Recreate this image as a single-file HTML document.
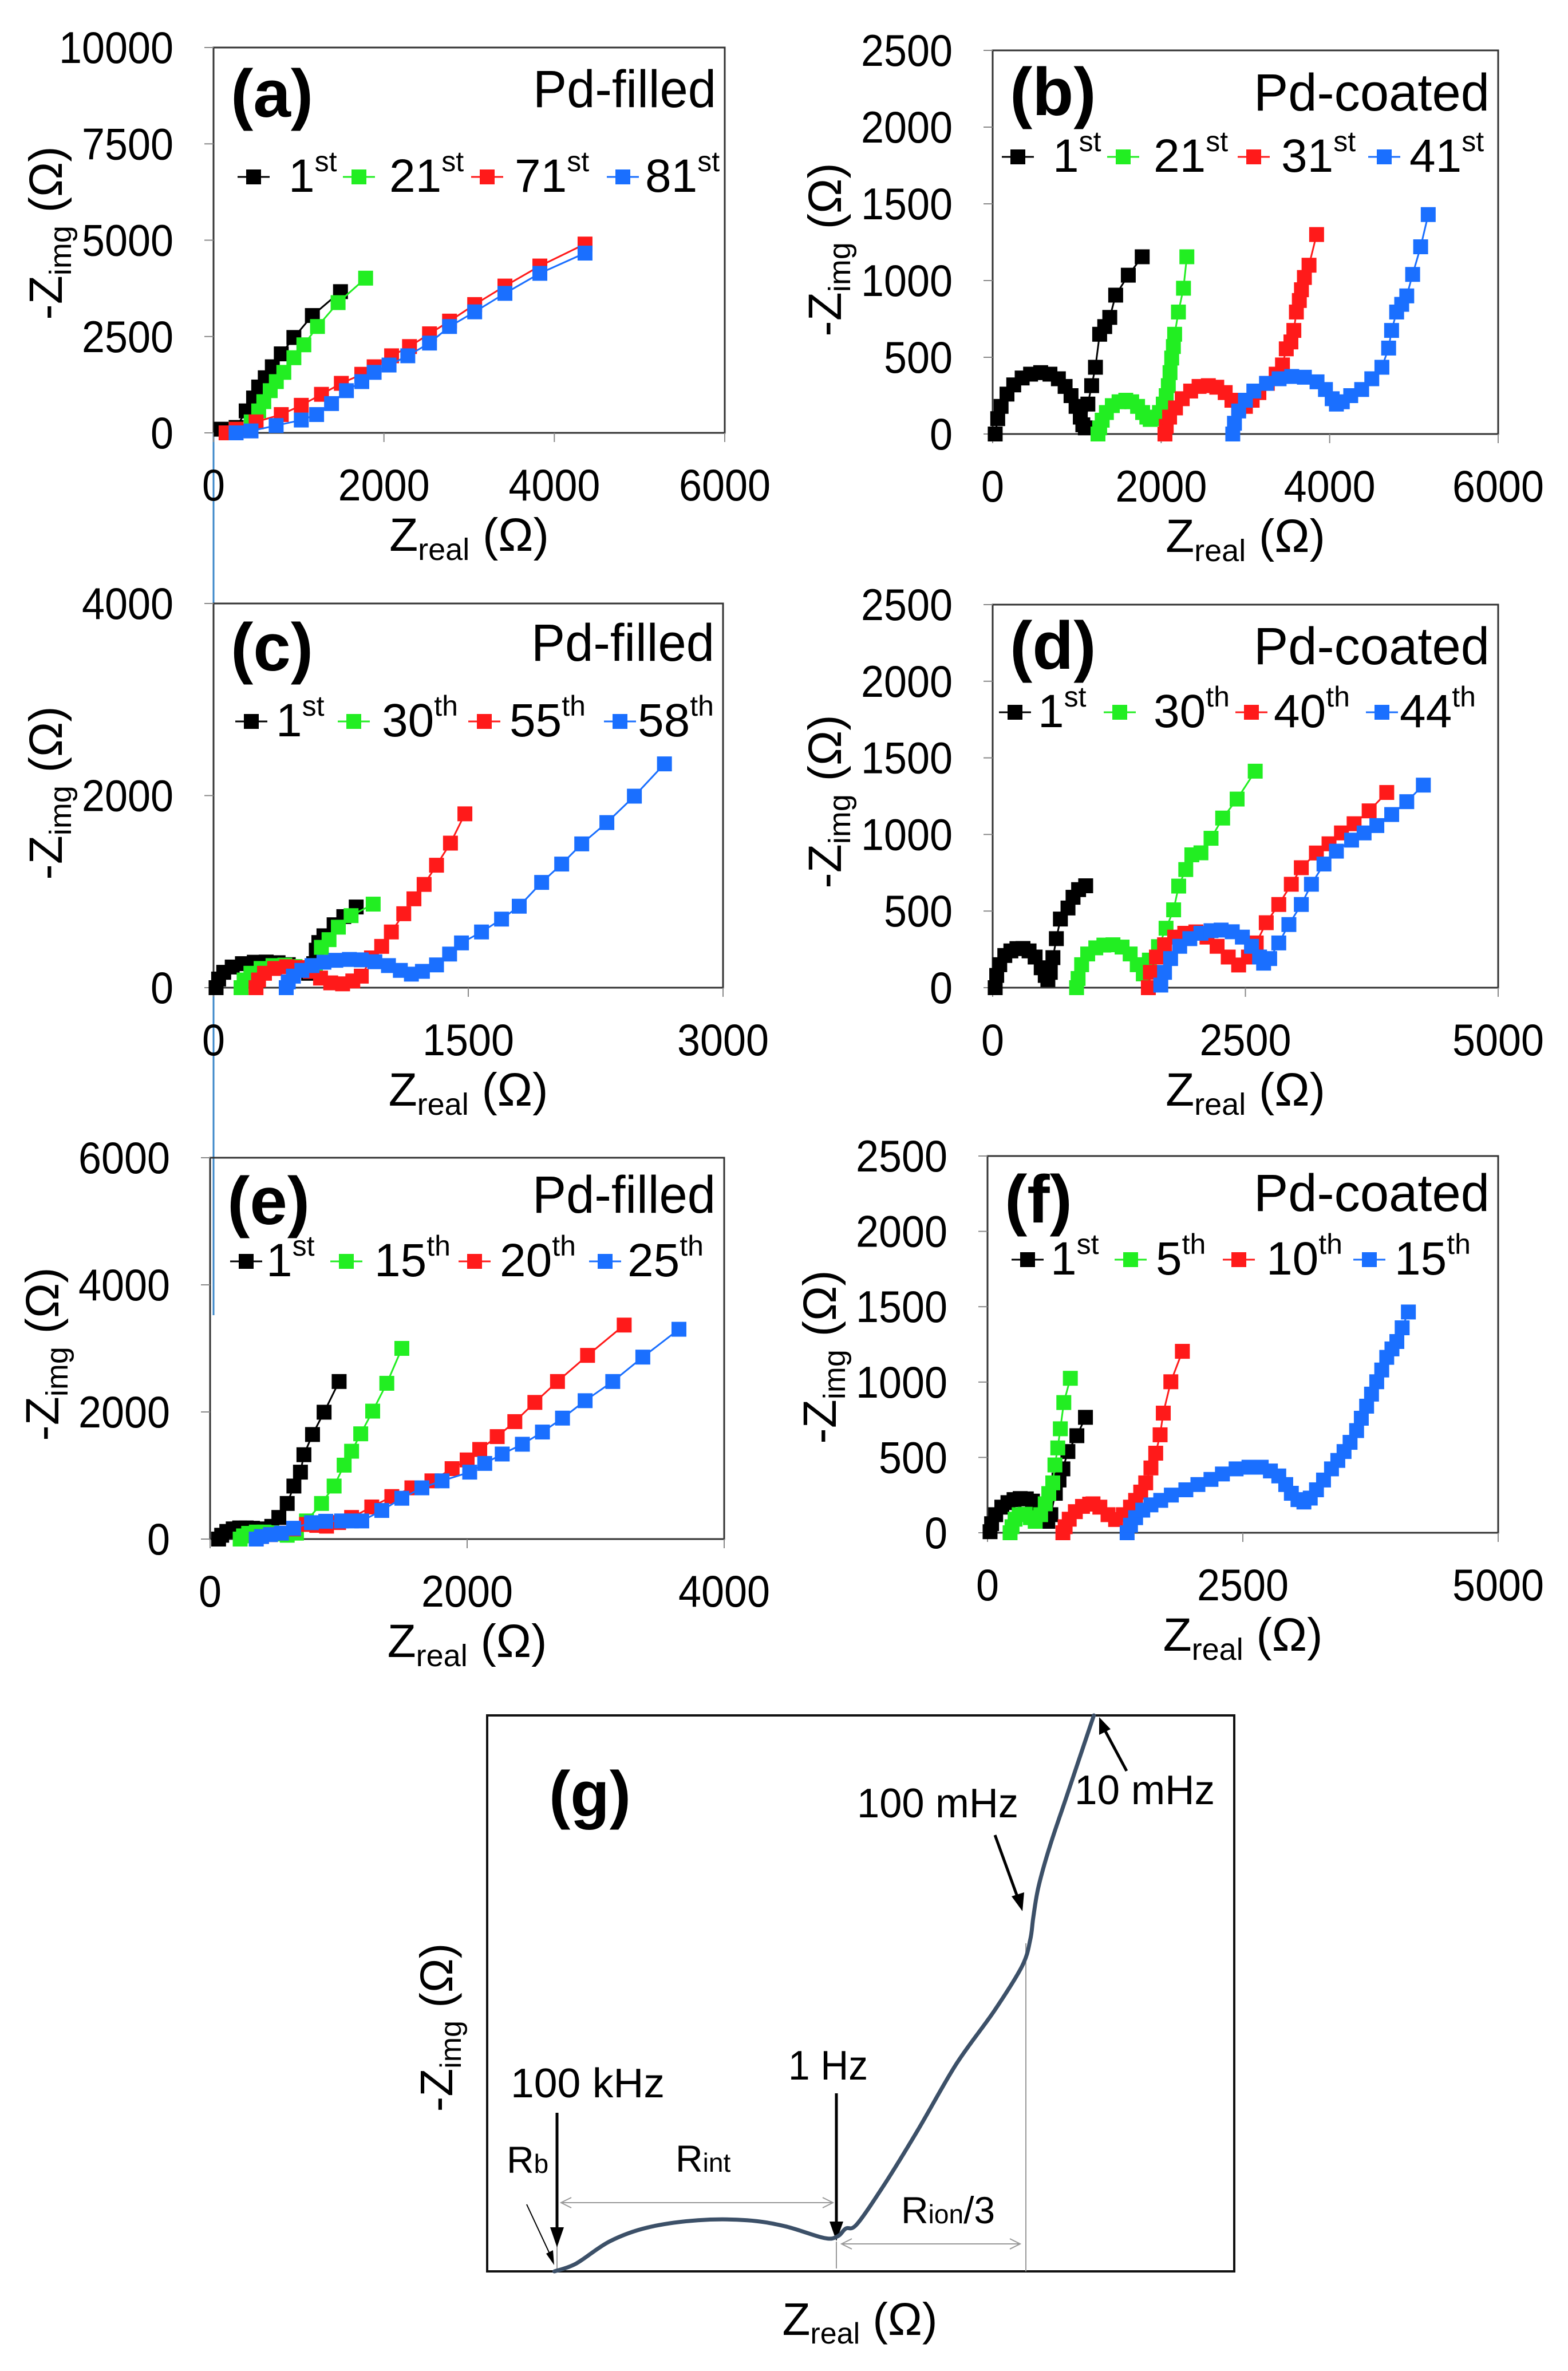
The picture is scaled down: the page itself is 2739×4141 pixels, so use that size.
<!DOCTYPE html>
<html><head><meta charset="utf-8">
<style>
html,body{margin:0;padding:0;background:#fff;}
svg{display:block;font-family:"Liberation Sans",Arial,sans-serif;}
</style></head>
<body>
<svg id="fig" width="2739" height="4141" viewBox="0 0 2739 4141" xmlns="http://www.w3.org/2000/svg">
<rect width="2739" height="4141" fill="#fff"/>
<line x1="373" y1="548" x2="373" y2="2297" stroke="#3a86c8" stroke-width="3"/>
<g id="panels"></g>
<g id="panelg">
  <rect x="851" y="2996" width="1305" height="971" fill="none" stroke="#111" stroke-width="4"/>
  <text x="959" y="3172" font-size="112" font-weight="bold">(g)</text>
  <text x="1497" y="3174" font-size="72" textLength="282" lengthAdjust="spacingAndGlyphs">100 mHz</text>
  <text x="1877" y="3151" font-size="72" textLength="245" lengthAdjust="spacingAndGlyphs">10 mHz</text>
  <text x="1377" y="3632" font-size="72" textLength="139" lengthAdjust="spacingAndGlyphs">1 Hz</text>
  <text x="892" y="3663" font-size="72" textLength="269" lengthAdjust="spacingAndGlyphs">100 kHz</text>
  <text x="885" y="3795" font-size="66">R<tspan font-size="46">b</tspan></text>
  <text x="1180" y="3793" font-size="66">R<tspan font-size="46">int</tspan></text>
  <text x="1574" y="3883" font-size="66">R<tspan font-size="46">ion</tspan>/3</text>
  <text transform="translate(790,3541) rotate(-90)" text-anchor="middle" font-size="80">-Z<tspan font-size="52" dy="15">img</tspan><tspan dy="-15"> (Ω)</tspan></text>
  <text x="1502" y="4078" text-anchor="middle" font-size="80">Z<tspan font-size="52" dy="15">real</tspan><tspan dy="-15"> (Ω)</tspan></text>
  <g stroke="#999" stroke-width="2" fill="none">
    <line x1="973" y1="3838" x2="973" y2="3967"/>
    <line x1="1461" y1="3915" x2="1461" y2="3962"/>
    <line x1="1792" y1="3394" x2="1792" y2="3967"/>
    <line x1="980" y1="3847" x2="1455" y2="3847"/>
    <polyline points="998,3838 980,3847 998,3856"/><polyline points="1437,3838 1455,3847 1437,3856"/>
    <line x1="1470" y1="3919" x2="1782" y2="3919"/>
    <polyline points="1488,3910 1470,3919 1488,3928"/><polyline points="1764,3910 1782,3919 1764,3928"/>
  </g>
  <g stroke="#000" stroke-width="5">
    <line x1="973" y1="3690" x2="973" y2="3895"/>
    <line x1="1461" y1="3656" x2="1461" y2="3885"/>
    <line x1="1738" y1="3205" x2="1778" y2="3315"/>
    <line x1="1968" y1="3093" x2="1930" y2="3022"/>
    <line x1="920" y1="3850" x2="962" y2="3940" stroke-width="2"/>
  </g>
  <g fill="#000">
    <polygon points="961,3890 985,3890 973,3925"/>
    <polygon points="1449,3880 1473,3880 1461,3914"/>
    <polygon points="1767,3312 1789,3305 1786,3338"/>
    <polygon points="1920,3030 1940,3020 1920,2999"/>
    <polygon points="954,3936 966,3930 968,3956"/>
  </g>
  <path id="gcurve" fill="none" stroke="#3c5068" stroke-width="7" stroke-linejoin="round" stroke-linecap="round"/>
</g>
</svg>
<script>
const NS="http://www.w3.org/2000/svg";
const COLORS=["#000000","#22ee22","#ff1a1a","#1a6fff"];

// ---- panel (a) data ----
const aXTicks=[0,2000,4000,6000];
const aYTicks=[0,2500,5000,7500,10000];
const aLegend=["1","21","71","81"];
const aSup=["st","st","st","st"];
const aX1=[90,265,383,470,530,607,690,795,943,1160,1490];
const aY1=[95,140,570,905,1190,1430,1715,2050,2475,3045,3665];
const aX2=[265,442,530,590,665,737,825,943,1060,1220,1462,1785];
const aY2=[95,285,570,810,1095,1330,1570,1950,2285,2760,3380,4015];
const aX3=[147,265,500,795,1030,1267,1500,1740,1885,2090,2300,2535,2770,3065,3420,3830,4360];
const aY3=[0,95,285,475,715,1000,1285,1520,1715,2000,2240,2570,2900,3330,3810,4330,4900];
const aX4=[265,440,735,1030,1210,1385,1560,1740,1885,2060,2280,2535,2770,3065,3420,3830,4360];
const aY4=[0,50,190,333,475,760,1095,1330,1570,1760,2000,2330,2760,3140,3620,4140,4665];

// ---- panel (b) data ----
const bXTicks=[0,2000,4000,6000];
const bYTicks=[0,500,1000,1500,2000,2500];
const bLegend=["1","21","31","41"];
const bSup=["st","st","st","st"];
const bX1=[30,60,100,170,250,350,450,570,680,780,860,930,990,1040,1070,1100,1130,1175,1220,1270,1330,1390,1460,1610,1775];
const bY1=[0,100,180,260,320,365,390,400,390,360,310,250,180,110,60,40,195,315,435,650,700,760,905,1035,1155];
const bX2=[1250,1270,1300,1350,1420,1500,1580,1650,1720,1780,1830,1870,1920,1980,2025,2060,2085,2105,2125,2145,2160,2205,2265,2305];
const bY2=[0,40,90,140,185,210,220,210,180,140,110,95,100,140,195,250,315,400,495,570,650,795,950,1155];
const bX3=[2045,2060,2100,2170,2250,2350,2450,2560,2660,2760,2840,2920,3000,3080,3160,3260,3365,3440,3485,3540,3575,3605,3640,3665,3700,3755,3845];
const bY3=[0,50,110,170,230,280,310,315,305,270,220,170,180,220,270,330,390,450,555,600,675,795,870,940,1020,1100,1300];
const bX4=[2850,2870,2920,3000,3100,3250,3400,3550,3700,3850,3950,4030,4080,4150,4250,4380,4500,4620,4700,4735,4795,4855,4915,4985,5080,5170];
const bY4=[0,70,150,220,280,330,360,375,370,340,290,230,195,210,250,290,360,435,560,675,795,845,900,1040,1220,1430];

// ---- panel (c) data ----
const cXTicks=[0,1500,3000];
const cYTicks=[0,2000,4000];
const cLegend=["1","30","55","58"];
const cSup=["st","th","th","th"];
const cX1=[15,30,60,110,170,240,310,380,440,500,560,590,605,620,650,710,767,840];
const cY1=[0,90,160,215,250,265,267,260,240,200,150,250,390,470,540,655,740,840];
const cX2=[162,180,220,280,350,420,480,530,570,600,635,680,735,810,940];
const cY2=[0,80,150,200,230,235,220,190,170,230,420,500,630,750,870];
const cX3=[250,265,300,360,430,500,570,630,690,760,820,870,930,990,1047,1120,1180,1240,1313,1395,1480];
const cY3=[0,80,150,200,218,210,170,100,50,40,70,120,310,430,580,770,925,1075,1275,1505,1810];
const cX4=[428,440,470,520,580,650,720,800,870,950,1030,1100,1165,1230,1313,1390,1460,1578,1696,1800,1932,2050,2168,2316,2478,2655];
const cY4=[0,60,120,180,230,265,285,294,290,270,230,180,141,170,237,350,466,580,714,848,1096,1287,1497,1719,1994,2330];

// ---- panel (d) data ----
const dXTicks=[0,2500,5000];
const dYTicks=[0,500,1000,1500,2000,2500];
const dLegend=["1","30","40","44"];
const dSup=["st","th","th","th"];
const dX1=[25,40,70,120,180,240,300,360,420,480,520,546,570,596,630,670,745,795,850,920];
const dY1=[0,80,150,210,240,255,256,240,200,130,80,53,100,196,320,448,520,590,640,665];
const dX2=[830,845,880,940,1020,1100,1190,1280,1360,1430,1490,1550,1640,1715,1790,1840,1910,1970,2060,2160,2275,2418,2597];
const dY2=[0,60,150,220,260,278,280,265,220,150,90,180,268,388,508,663,771,867,880,975,1107,1231,1413];
const dX3=[1540,1560,1620,1700,1800,1900,2010,2120,2220,2330,2433,2530,2607,2706,2830,2954,3053,3202,3327,3450,3575,3724,3898];
const dY3=[0,100,200,280,330,355,364,330,270,200,148,200,292,424,543,675,783,879,939,1010,1070,1154,1274];
const dX4=[1663,1700,1760,1850,1950,2060,2160,2260,2370,2470,2560,2640,2680,2740,2830,2930,3053,3153,3277,3400,3550,3674,3800,3947,4096,4260];
const dY4=[17,100,190,270,320,355,372,376,365,330,270,200,160,190,292,412,543,675,807,891,963,1010,1058,1130,1214,1322];

// ---- panel (e) data ----
const eXTicks=[0,2000,4000];
const eYTicks=[0,2000,4000,6000];
const eLegend=["1","15","20","25"];
const eSup=["st","th","th","th"];
const eX1=[66,90,130,180,230,281,330,380,430,480,535,600,652,703,730,797,887,1004];
const eY1=[0,60,120,160,175,175,170,160,150,200,340,560,834,1053,1327,1645,1996,2479];
const eX2=[234,260,300,360,420,480,540,600,672,750,867,965,1043,1101,1172,1265,1375,1492];
const eY2=[0,50,90,110,110,100,80,60,93,285,560,834,1163,1382,1656,2013,2451,3000];
const eX3=[359,400,470,555,650,750,830,906,1000,1101,1258,1414,1570,1726,1883,2000,2098,2234,2371,2527,2703,2937,3222];
const eY3=[0,40,70,93,160,230,215,203,260,340,505,669,806,916,1108,1245,1410,1612,1848,2150,2479,2890,3367];
const eX4=[359,400,470,555,650,789,900,1023,1100,1180,1336,1492,1648,1805,2020,2137,2273,2430,2586,2742,2918,3133,3367,3648];
const eY4=[0,40,70,93,170,258,280,285,285,285,450,642,806,916,1053,1190,1338,1492,1684,1903,2177,2479,2863,3301];

// ---- panel (f) data ----
const fXTicks=[0,2500,5000];
const fYTicks=[0,500,1000,1500,2000,2500];
const fLegend=["1","5","10","15"];
const fSup=["st","th","th","th"];
const fX1=[25,40,80,140,200,260,320,380,440,500,560,590,620,664,700,738,787,875,959];
const fY1=[7,60,120,170,200,220,227,225,210,170,110,76,120,262,350,424,539,644,766];
const fX2=[221,240,270,310,369,420,467,520,565,600,639,660,688,713,747,811];
const fY2=[0,40,90,120,123,100,76,120,192,260,331,450,563,690,864,1025];
const fX3=[738,760,800,860,930,1000,1033,1100,1180,1254,1330,1400,1450,1500,1549,1600,1647,1690,1721,1795,1908];
const fY3=[0,40,90,140,175,190,192,170,120,88,120,170,215,270,331,430,528,650,794,1002,1204];
const fX4=[1367,1400,1450,1520,1600,1696,1800,1942,2060,2188,2300,2434,2560,2680,2770,2852,2920,2975,3040,3098,3160,3221,3290,3368,3430,3491,3550,3614,3660,3712,3760,3811,3860,3909,3960,4008,4060,4121];
const fY4=[0,50,100,150,185,215,250,285,320,354,390,424,435,435,410,377,320,262,220,204,230,285,350,424,480,539,600,678,760,840,920,1002,1080,1164,1220,1269,1360,1465];

// ---- panel (g) schematic curve (normalized units 0-100) ----
const gU=[9.0,11.9,16.4,21.5,28.2,34.8,39.9,45.1,46.9,48.0,49.5,53.2,57.6,62.8,67.9,71.6,72.7,73.1,73.8,75.3,77.5,81.2];
const gV=[0,1.4,5.4,7.9,9.2,9.2,8.1,6.0,6.3,7.7,8.5,15.7,25.3,37.3,46.9,54.9,59.7,63.7,69.2,76.4,85.2,100];

const panels=[
 {id:"a",tag:"(a)",kind:"Pd-filled",L:373,R:1266,T:83,B:756,xt:aXTicks,yt:aYTicks,lg:aLegend,sp:aSup,xs:[aX1,aX2,aX3,aX4],ys:[aY1,aY2,aY3,aY4],tagY:199,kindY:183,lgY:335,mk:[443,627,851,1088],tx:[504,680,899,1127],ytc:407},
 {id:"b",tag:"(b)",kind:"Pd-coated",L:1734,R:2617,T:88,B:758,xt:bXTicks,yt:bYTicks,lg:bLegend,sp:bSup,xs:[bX1,bX2,bX3,bX4],ys:[bY1,bY2,bY3,bY4],tagY:196,kindY:189,lgY:300,mk:[1778,1962,2190,2418],tx:[1839,2015,2238,2462],ytc:436},
 {id:"c",tag:"(c)",kind:"Pd-filled",L:373,R:1263,T:1054,B:1725,xt:cXTicks,yt:cYTicks,lg:cLegend,sp:cSup,xs:[cX1,cX2,cX3,cX4],ys:[cY1,cY2,cY3,cY4],tagY:1166,kindY:1150,lgY:1286,mk:[439,618,846,1083],tx:[482,667,890,1114],ytc:1385},
 {id:"d",tag:"(d)",kind:"Pd-coated",L:1734,R:2617,T:1056,B:1725,xt:dXTicks,yt:dYTicks,lg:dLegend,sp:dSup,xs:[dX1,dX2,dX3,dX4],ys:[dY1,dY2,dY3,dY4],tagY:1163,kindY:1156,lgY:1270,mk:[1773,1956,2186,2414],tx:[1813,2015,2225,2445],ytc:1400},
 {id:"e",tag:"(e)",kind:"Pd-filled",L:367,R:1265,T:2022,B:2688,xt:eXTicks,yt:eYTicks,lg:eLegend,sp:eSup,xs:[eX1,eX2,eX3,eX4],ys:[eY1,eY2,eY3,eY4],tagY:2133,kindY:2114,lgY:2229,mk:[430,605,829,1057],tx:[465,654,873,1096],ytc:2365},
 {id:"f",tag:"(f)",kind:"Pd-coated",L:1725,R:2617,T:2019,B:2677,xt:fXTicks,yt:fYTicks,lg:fLegend,sp:fSup,xs:[fX1,fX2,fX3,fX4],ys:[fY1,fY2,fY3,fY4],tagY:2130,kindY:2111,lgY:2226,mk:[1795,1975,2164,2392],tx:[1835,2019,2212,2436],ytc:2370}
];

function mk(tag,attrs,parent){const e=document.createElementNS(NS,tag);for(const k in attrs)e.setAttribute(k,attrs[k]);parent.appendChild(e);return e;}

const root=document.getElementById("panels");
panels.forEach(p=>{
  const g=mk("g",{},root);
  
  
  const xmin=p.xt[0],xmax=p.xt[p.xt.length-1],ymin=p.yt[0],ymax=p.yt[p.yt.length-1];
  const sx=v=>p.L+(v-xmin)/(xmax-xmin)*(p.R-p.L);
  const sy=v=>p.B-(v-ymin)/(ymax-ymin)*(p.B-p.T);
  const fr=mk("rect",{x:p.L,y:p.T,width:p.R-p.L,height:p.B-p.T,fill:"none",stroke:"#333","stroke-width":3},g);
  
  
  p.yt.forEach(v=>{
    const t=mk("line",{x1:p.L-16,x2:p.L,y1:sy(v),y2:sy(v),stroke:"#888","stroke-width":2},g);
    
    
    const s=String(v);
    const l=mk("text",{x:p.L-70,y:sy(v)+27,"text-anchor":"end","font-size":78,textLength:s.length*40,lengthAdjust:"spacingAndGlyphs"},g);
    l.textContent=s;
    
    
  });
  p.xt.forEach(v=>{
    const t=mk("line",{x1:sx(v),x2:sx(v),y1:p.B,y2:p.B+16,stroke:"#888","stroke-width":2},g);
    
    
    const s=String(v);
    const l=mk("text",{x:sx(v),y:p.B+118,"text-anchor":"middle","font-size":78,textLength:s.length*40,lengthAdjust:"spacingAndGlyphs"},g);
    l.textContent=s;
    
    
  });
  const xtitle=mk("text",{x:(p.L+p.R)/2,y:p.B+206,"text-anchor":"middle","font-size":82},g);
  xtitle.innerHTML='Z<tspan font-size="54" dy="16">real</tspan><tspan dy="-16"> (Ω)</tspan>';
  
  
  const ytitle=mk("text",{transform:`translate(${p.L-265},${p.ytc}) rotate(-90)`,"text-anchor":"middle","font-size":82},g);
  ytitle.innerHTML='-Z<tspan font-size="54" dy="16">img</tspan><tspan dy="-16"> (Ω)</tspan>';
  
  
  const tg=mk("text",{x:p.L+30,y:p.tagY+5,"font-size":118,"font-weight":"bold"},g);
  tg.textContent=p.tag;
  
  
  const kd=mk("text",{x:p.R-15,y:p.kindY+4,"text-anchor":"end","font-size":92,textLength:(p.kind==="Pd-filled"?320:412),lengthAdjust:"spacingAndGlyphs"},g);
  kd.textContent=p.kind;
  
  
  p.xs.forEach((xs,i)=>{
    const ys=p.ys[i];
    const s=mk("g",{},g);
    
    
    const pts=xs.map((x,j)=>sx(x).toFixed(1)+","+sy(ys[j]).toFixed(1)).join(" ");
    const pl=mk("polyline",{points:pts,fill:"none",stroke:COLORS[i],"stroke-width":3},s);
    
    
    xs.forEach((x,j)=>{
      const r=mk("rect",{x:sx(x)-13,y:sy(ys[j])-13,width:26,height:26,fill:COLORS[i]},s);
      
      
    });
    const le=mk("g",{},g);
    
    
    const mx=p.mk[i];
    mk("line",{x1:mx-28,x2:mx+28,y1:p.lgY-26,y2:p.lgY-26,stroke:COLORS[i],"stroke-width":3},le);
    mk("rect",{x:mx-13,y:p.lgY-39,width:26,height:26,fill:COLORS[i]},le);
    const lt=mk("text",{x:p.tx[i],y:p.lgY,"font-size":82},le);
    lt.innerHTML=p.lg[i]+'<tspan font-size="50" dy="-36">'+p.sp[i]+'</tspan>';
  });
});

// panel g curve
(function(){
  const L=851,R=2156,T=2996,B=3967;
  const gx=u=>L+u/100*(R-L), gy=v=>B-v/100*(B-T);
  let d="M"+gx(gU[0])+","+gy(gV[0]);
  for(let i=1;i<gU.length;i++){
    const p0=[gx(gU[Math.max(0,i-2)]),gy(gV[Math.max(0,i-2)])],p1=[gx(gU[i-1]),gy(gV[i-1])],p2=[gx(gU[i]),gy(gV[i])],p3=[gx(gU[Math.min(gU.length-1,i+1)]),gy(gV[Math.min(gU.length-1,i+1)])];
    const c1=[p1[0]+(p2[0]-p0[0])/6,p1[1]+(p2[1]-p0[1])/6],c2=[p2[0]-(p3[0]-p1[0])/6,p2[1]-(p3[1]-p1[1])/6];
    d+=` C${c1[0].toFixed(1)},${c1[1].toFixed(1)} ${c2[0].toFixed(1)},${c2[1].toFixed(1)} ${p2[0].toFixed(1)},${p2[1].toFixed(1)}`;
  }
  document.getElementById("gcurve").setAttribute("d",d);
})();
</script>
</body></html>
